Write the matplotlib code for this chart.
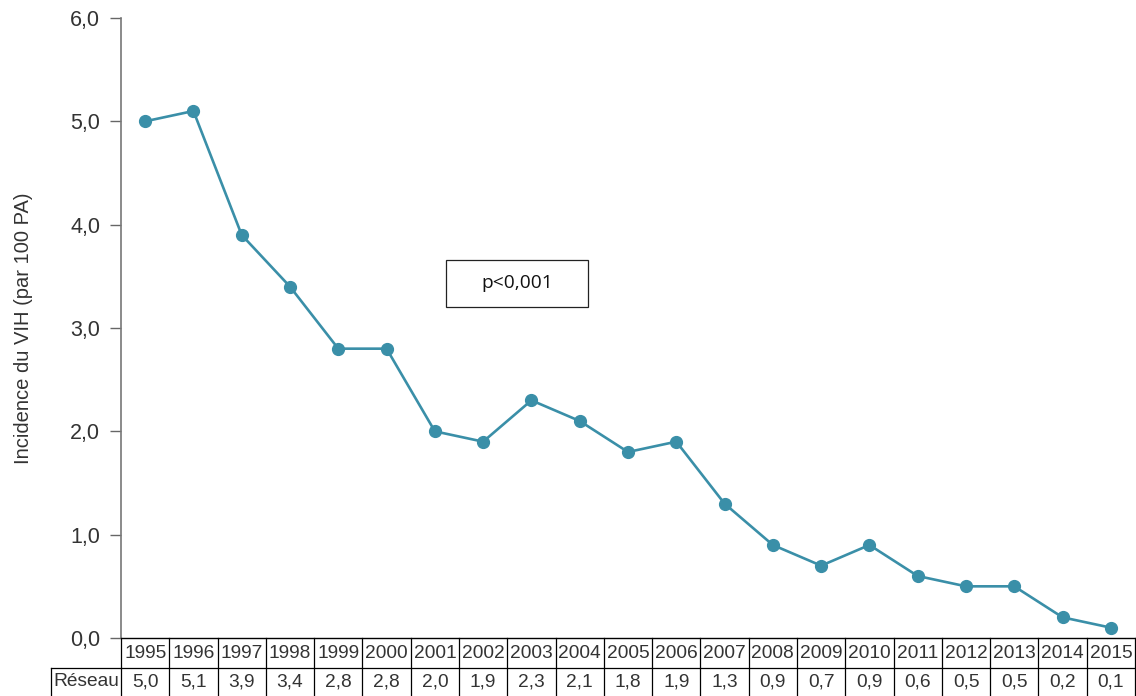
import matplotlib
matplotlib.use("Agg")
import matplotlib.pyplot as plt
from matplotlib.patches import Rectangle

years = [1995, 1996, 1997, 1998, 1999, 2000, 2001, 2002, 2003, 2004, 2005,
         2006, 2007, 2008, 2009, 2010, 2011, 2012, 2013, 2014, 2015]
incidence = [5.0, 5.1, 3.9, 3.4, 2.8, 2.8, 2.0, 1.9, 2.3, 2.1, 1.8,
             1.9, 1.3, 0.9, 0.7, 0.9, 0.6, 0.5, 0.5, 0.2, 0.1]
yticks = [0, 1, 2, 3, 4, 5, 6]
row_label = "Réseau"
ylabel = "Incidence du VIH (par 100 PA)"
annot = "p<0,001"

W, H = 1136, 696
fig = plt.figure(figsize=(W / 100, H / 100), dpi=100)
L, R, B, T = 121, 1135, 638, 18
ax = fig.add_axes([L / W, (H - B) / H, (R - L) / W, (B - T) / H])

font = "Liberation Sans"
txtcol = "#333333"
linecol = "#3A8FA8"

xs = list(range(len(years)))
ax.plot(xs, incidence, color=linecol, lw=1.9, marker="o", ms=8.5,
        markeredgecolor=linecol, markerfacecolor=linecol, clip_on=False, zorder=3)

ax.set_xlim(-0.5, len(years) - 0.5)
ax.set_ylim(0, 6)
ax.set_yticks(yticks)
ax.set_yticklabels([f"{v:.1f}".replace(".", ",") for v in yticks],
                   fontsize=15.5, family=font, color=txtcol)
ax.tick_params(axis="y", direction="out", length=8, width=1, color="#666666", pad=7)
ax.set_xticks([])
for s in ["top", "right"]:
    ax.spines[s].set_visible(False)
ax.spines["left"].set_color("#777777")
ax.spines["left"].set_linewidth(1.2)
ax.spines["bottom"].set_color("black")
ax.spines["bottom"].set_linewidth(1)

ax.set_ylabel(ylabel, fontsize=14.5, family=font, color=txtcol)
ax.yaxis.set_label_coords(-88 / (R - L), 0.5)

# Table below axes
axh = B - T
r1 = -30 / axh
r2 = -58 / axh
tr = ax.get_xaxis_transform()
lw = 0.9
tfs = 13.8
for i, (yr, v) in enumerate(zip(years, incidence)):
    ax.text(i, r1 / 2, str(yr), transform=tr, ha="center", va="center",
            fontsize=tfs, family=font, color=txtcol, clip_on=False)
    ax.text(i, (r1 + r2) / 2, f"{v:.1f}".replace(".", ","), transform=tr,
            ha="center", va="center", fontsize=tfs, family=font, color=txtcol, clip_on=False)
for i in range(len(years) + 1):
    ax.plot([i - 0.5, i - 0.5], [0, r2], transform=tr, color="black", lw=lw, clip_on=False)
ax.plot([-0.5, len(years) - 0.5], [r1, r1], transform=tr, color="black", lw=lw, clip_on=False)
# Row label cell
cell_left = -70 / (R - L)
ax.plot([cell_left, 0], [r1, r1], transform=ax.transAxes, color="black", lw=lw, clip_on=False)
ax.plot([cell_left, cell_left], [r1, r2], transform=ax.transAxes, color="black", lw=lw, clip_on=False)
ax.text(cell_left / 2, (r1 + r2) / 2, row_label, transform=ax.transAxes, ha="center",
        va="center", fontsize=tfs, family=font, color=txtcol, clip_on=False)

# Annotation box
bx0, bx1, by0, by1 = 446, 588, 260, 307
ax.add_patch(Rectangle(((bx0 - L) / (R - L), (B - by1) / axh), (bx1 - bx0) / (R - L),
                       (by1 - by0) / axh, transform=ax.transAxes, fill=False,
                       edgecolor="#222222", lw=0.9))
ax.text(((bx0 + bx1) / 2 - L) / (R - L), (B - (by0 + by1) / 2) / axh, annot,
        transform=ax.transAxes, ha="center", va="center", fontsize=13.8,
        family="Open Sans", color="#111111")

fig.savefig("out.png", dpi=100)
